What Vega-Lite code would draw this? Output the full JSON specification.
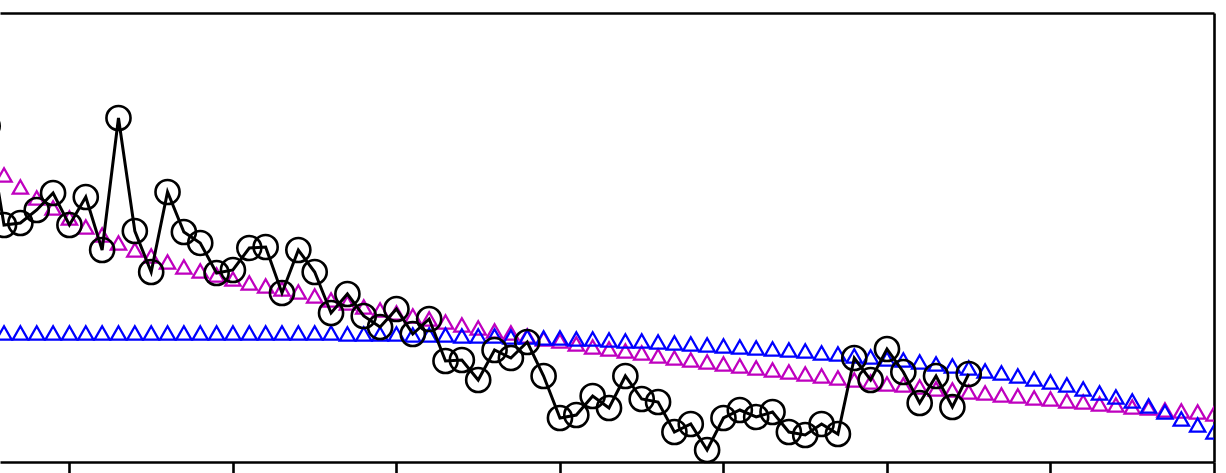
{
  "$schema": "https://vega.github.io/schema/vega-lite/v6.json",
  "width": 1214,
  "height": 449,
  "autosize": {"type": "none"},
  "padding": {"left": 0, "top": 13, "right": 12, "bottom": 11},
  "background": "white",
  "config": {
    "view": {"stroke": null},
    "axis": {"grid": false, "labels": false, "title": null, "domainColor": "black", "tickColor": "black", "domainWidth": 2.6, "tickWidth": 2.6}
  },
  "datasets": {
    "black": [
      {"n": -5, "v": 336}, {"n": -4, "v": 237}, {"n": -3, "v": 239}, {"n": -2, "v": 252}, {"n": -1, "v": 269},
      {"n": 0, "v": 237}, {"n": 1, "v": 265}, {"n": 2, "v": 212}, {"n": 3, "v": 344}, {"n": 4, "v": 231},
      {"n": 5, "v": 190}, {"n": 6, "v": 270}, {"n": 7, "v": 230}, {"n": 8, "v": 219}, {"n": 9, "v": 189},
      {"n": 10, "v": 192}, {"n": 11, "v": 214}, {"n": 12, "v": 215}, {"n": 13, "v": 169}, {"n": 14, "v": 212},
      {"n": 15, "v": 190}, {"n": 16, "v": 149}, {"n": 17, "v": 168}, {"n": 18, "v": 146}, {"n": 19, "v": 135},
      {"n": 20, "v": 153}, {"n": 21, "v": 128}, {"n": 22, "v": 143}, {"n": 23, "v": 101}, {"n": 24, "v": 102},
      {"n": 25, "v": 82}, {"n": 26, "v": 112}, {"n": 27, "v": 104}, {"n": 28, "v": 120}, {"n": 29, "v": 86},
      {"n": 30, "v": 44}, {"n": 31, "v": 47}, {"n": 32, "v": 66}, {"n": 33, "v": 54}, {"n": 34, "v": 86},
      {"n": 35, "v": 63}, {"n": 36, "v": 60}, {"n": 37, "v": 30}, {"n": 38, "v": 38}, {"n": 39, "v": 12},
      {"n": 40, "v": 44}, {"n": 41, "v": 52}, {"n": 42, "v": 45}, {"n": 43, "v": 50}, {"n": 44, "v": 30},
      {"n": 45, "v": 27}, {"n": 46, "v": 38}, {"n": 47, "v": 28}, {"n": 48, "v": 104}, {"n": 49, "v": 82},
      {"n": 50, "v": 113}, {"n": 51, "v": 90}, {"n": 52, "v": 59}, {"n": 53, "v": 86}, {"n": 54, "v": 55},
      {"n": 55, "v": 88}
    ],
    "blue": [
      {"n": -4, "v": 129}, {"n": -3, "v": 129}, {"n": -2, "v": 129}, {"n": -1, "v": 129}, {"n": 0, "v": 129},
      {"n": 1, "v": 129}, {"n": 2, "v": 129}, {"n": 3, "v": 129}, {"n": 4, "v": 129}, {"n": 5, "v": 129},
      {"n": 6, "v": 129}, {"n": 7, "v": 129}, {"n": 8, "v": 129}, {"n": 9, "v": 129}, {"n": 10, "v": 129},
      {"n": 11, "v": 129}, {"n": 12, "v": 129}, {"n": 13, "v": 129}, {"n": 14, "v": 129}, {"n": 15, "v": 129},
      {"n": 16, "v": 129}, {"n": 17, "v": 128}, {"n": 18, "v": 128}, {"n": 19, "v": 128}, {"n": 20, "v": 128},
      {"n": 21, "v": 127}, {"n": 22, "v": 127}, {"n": 23, "v": 127}, {"n": 24, "v": 126}, {"n": 25, "v": 126},
      {"n": 26, "v": 126}, {"n": 27, "v": 125}, {"n": 28, "v": 125}, {"n": 29, "v": 124}, {"n": 30, "v": 124},
      {"n": 31, "v": 123}, {"n": 32, "v": 123}, {"n": 33, "v": 122}, {"n": 34, "v": 121}, {"n": 35, "v": 121},
      {"n": 36, "v": 120}, {"n": 37, "v": 119}, {"n": 38, "v": 118}, {"n": 39, "v": 117}, {"n": 40, "v": 116},
      {"n": 41, "v": 115}, {"n": 42, "v": 114}, {"n": 43, "v": 113}, {"n": 44, "v": 112}, {"n": 45, "v": 111},
      {"n": 46, "v": 109}, {"n": 47, "v": 108}, {"n": 48, "v": 106}, {"n": 49, "v": 105}, {"n": 50, "v": 103},
      {"n": 51, "v": 102}, {"n": 52, "v": 100}, {"n": 53, "v": 98}, {"n": 54, "v": 96}, {"n": 55, "v": 94},
      {"n": 56, "v": 91}, {"n": 57, "v": 89}, {"n": 58, "v": 86}, {"n": 59, "v": 83}, {"n": 60, "v": 80},
      {"n": 61, "v": 77}, {"n": 62, "v": 73}, {"n": 63, "v": 69}, {"n": 64, "v": 65}, {"n": 65, "v": 61},
      {"n": 66, "v": 56}, {"n": 67, "v": 50}, {"n": 68, "v": 43}, {"n": 69, "v": 37}, {"n": 70, "v": 30}
    ],
    "magenta": [
      {"n": -4, "v": 287}, {"n": -3, "v": 275}, {"n": -2, "v": 264}, {"n": -1, "v": 254}, {"n": 0, "v": 244},
      {"n": 1, "v": 235}, {"n": 2, "v": 227}, {"n": 3, "v": 219}, {"n": 4, "v": 212}, {"n": 5, "v": 206},
      {"n": 6, "v": 200}, {"n": 7, "v": 195}, {"n": 8, "v": 191}, {"n": 9, "v": 187}, {"n": 10, "v": 183},
      {"n": 11, "v": 179}, {"n": 12, "v": 176}, {"n": 13, "v": 173}, {"n": 14, "v": 170}, {"n": 15, "v": 166},
      {"n": 16, "v": 162}, {"n": 17, "v": 159}, {"n": 18, "v": 155}, {"n": 19, "v": 152}, {"n": 20, "v": 149},
      {"n": 21, "v": 146}, {"n": 22, "v": 143}, {"n": 23, "v": 140}, {"n": 24, "v": 137}, {"n": 25, "v": 134},
      {"n": 26, "v": 131}, {"n": 27, "v": 129}, {"n": 28, "v": 126}, {"n": 29, "v": 123}, {"n": 30, "v": 121},
      {"n": 31, "v": 118}, {"n": 32, "v": 115}, {"n": 33, "v": 113}, {"n": 34, "v": 111}, {"n": 35, "v": 109},
      {"n": 36, "v": 106}, {"n": 37, "v": 104}, {"n": 38, "v": 102}, {"n": 39, "v": 100}, {"n": 40, "v": 98},
      {"n": 41, "v": 96}, {"n": 42, "v": 94}, {"n": 43, "v": 92}, {"n": 44, "v": 90}, {"n": 45, "v": 88},
      {"n": 46, "v": 86}, {"n": 47, "v": 84}, {"n": 48, "v": 82}, {"n": 49, "v": 80}, {"n": 50, "v": 78},
      {"n": 51, "v": 77}, {"n": 52, "v": 75}, {"n": 53, "v": 73}, {"n": 54, "v": 72}, {"n": 55, "v": 70},
      {"n": 56, "v": 69}, {"n": 57, "v": 67}, {"n": 58, "v": 66}, {"n": 59, "v": 64}, {"n": 60, "v": 63},
      {"n": 61, "v": 61}, {"n": 62, "v": 60}, {"n": 63, "v": 58}, {"n": 64, "v": 57}, {"n": 65, "v": 55},
      {"n": 66, "v": 54}, {"n": 67, "v": 52}, {"n": 68, "v": 51}, {"n": 69, "v": 50}, {"n": 70, "v": 48}
    ]
  },
  "encoding": {
    "x": {"field": "n", "type": "quantitative", "scale": {"domain": [-4.246, 70], "nice": false, "zero": false}, "axis": null},
    "y": {"field": "v", "type": "quantitative", "scale": {"domain": [0, 449], "nice": false, "zero": false}, "axis": null}
  },
  "layer": [
    {
      "data": {"name": "magenta"},
      "mark": {"type": "point", "shape": "M0,-0.95L-1.08,0.95L1.08,0.95Z", "filled": false, "stroke": "#bf00bf", "strokeWidth": 2.3, "size": 200, "opacity": 1, "clip": true},
      "encoding": {
        "x": {"field": "n", "type": "quantitative", "axis": {"orient": "bottom", "values": [0, 10, 20, 30, 40, 50, 60, 70], "tickSize": 11, "labels": false, "domain": true, "ticks": true}}
      }
    },
    {
      "data": {"name": "blue"},
      "mark": {"type": "point", "shape": "M0,-0.95L-1.08,0.95L1.08,0.95Z", "filled": false, "stroke": "#0000ff", "strokeWidth": 2.3, "size": 200, "opacity": 1, "clip": true},
      "encoding": {
        "x": {"field": "n", "type": "quantitative", "axis": {"orient": "top", "ticks": false, "labels": false, "domain": true}},
        "y": {"field": "v", "type": "quantitative", "axis": {"orient": "right", "ticks": false, "labels": false, "domain": true}}
      }
    },
    {
      "data": {"name": "black"},
      "mark": {"type": "line", "color": "black", "strokeWidth": 3, "clip": false}
    },
    {
      "data": {"name": "black"},
      "mark": {"type": "point", "shape": "circle", "filled": false, "stroke": "black", "strokeWidth": 2.6, "size": 580, "opacity": 1, "clip": false}
    }
  ],
  "resolve": {"axis": {"x": "independent", "y": "independent"}}
}
